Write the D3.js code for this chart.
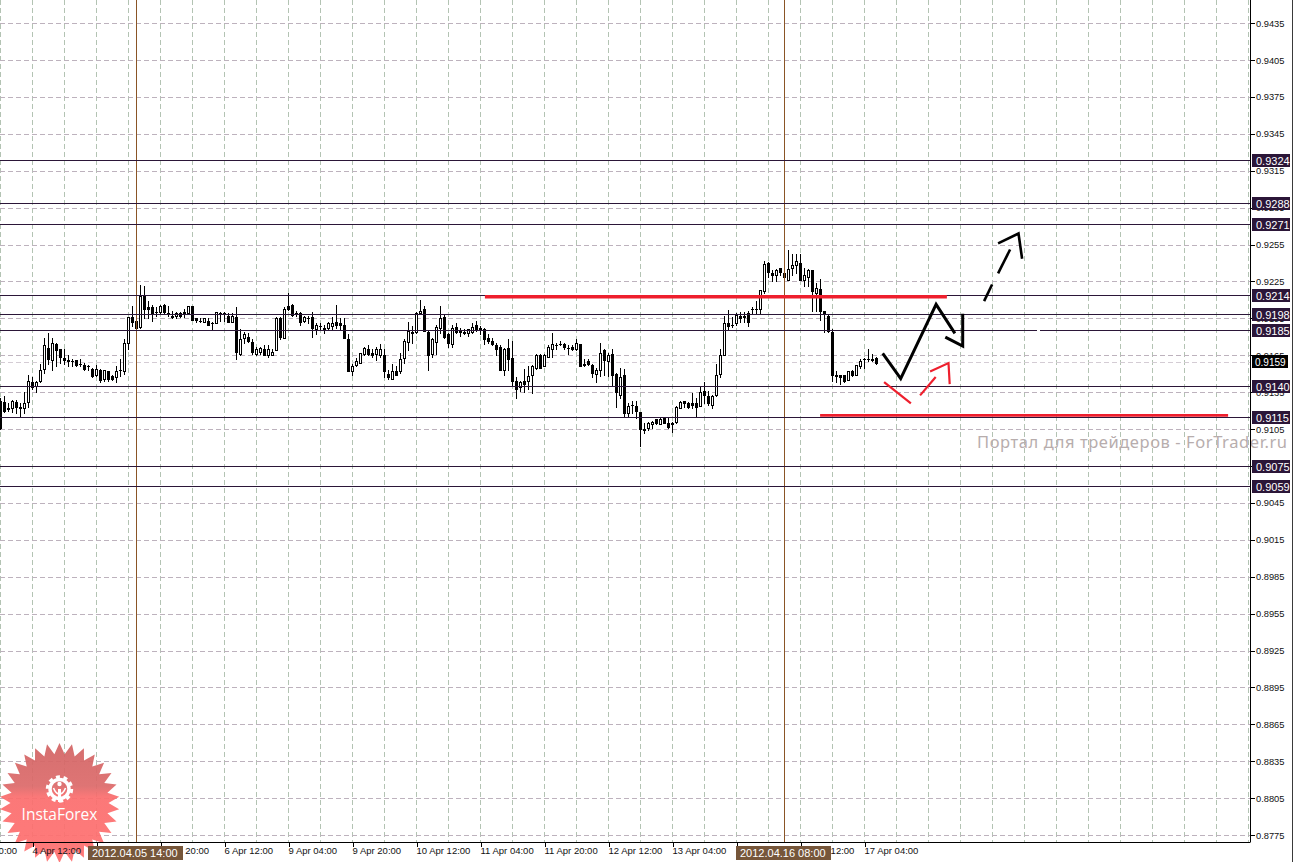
<!DOCTYPE html>
<html><head><meta charset="utf-8">
<style>
html,body{margin:0;padding:0;background:#fff;overflow:hidden}
svg{display:block}
text{font-family:"Liberation Sans",Arial,sans-serif}
</style>
<script src="https://cdn.jsdelivr.net/npm/d3@7/dist/d3.min.js"></script>
</head><body>
<svg id="c" width="1293" height="862"></svg>
<script>
// Candle values in 1/10000 price units (index = hourly bar)
const highs=[9130,9132,9126,9129,9129,9126,9135,9149,9147,9144,
9158,9179,9183,9179,9175,9170,9170,9165,9162,9161,
9162,9159,9157,9155,9157,9154,9153,9152,9149,9156,
9162,9178,9196,9205,9195,9222,9221,9209,9206,9204,
9206,9207,9205,9201,9200,9200,9203,9205,9205,9195,
9195,9195,9195,9192,9200,9200,9200,9199,9199,9204,
9186,9184,9183,9178,9172,9172,9173,9173,9170,9196,
9196,9204,9216,9207,9201,9200,9197,9197,9200,9191,
9191,9190,9192,9196,9206,9195,9195,9182,9158,9163,
9167,9172,9173,9170,9172,9174,9170,9153,9158,9156,
9167,9178,9192,9189,9200,9210,9205,9185,9179,9190,
9205,9198,9183,9190,9191,9187,9186,9186,9191,9193,
9189,9187,9182,9179,9175,9173,9171,9178,9177,9147,
9144,9154,9156,9157,9166,9166,9166,9173,9183,9175,
9177,9175,9173,9173,9178,9174,9162,9162,9158,9155,
9175,9170,9167,9170,9151,9155,9154,9126,9128,9128,
9119,9110,9111,9112,9113,9114,9114,9114,9111,9124,
9128,9128,9127,9134,9130,9140,9143,9136,9133,9158,
9170,9197,9202,9196,9199,9200,9200,9201,9204,9209,
9218,9242,9241,9234,9235,9236,9235,9251,9247,9247,
9247,9236,9235,9234,9224,9227,9201,9198,9186,9152,
9149,9149,9152,9153,9157,9162,9163,9170,9166,9164];
const lows=[9105,9119,9120,9119,9118,9116,9118,9123,9138,9135,
9143,9151,9158,9153,9156,9159,9158,9156,9156,9156,
9156,9153,9153,9147,9148,9143,9144,9144,9145,9143,
9148,9150,9170,9189,9186,9187,9195,9195,9193,9197,
9199,9199,9197,9195,9195,9196,9196,9199,9194,9192,
9192,9192,9190,9186,9191,9193,9193,9192,9192,9162,
9165,9175,9176,9166,9165,9166,9165,9164,9165,9169,
9178,9179,9202,9197,9197,9190,9192,9191,9180,9182,
9186,9183,9186,9186,9187,9186,9179,9152,9149,9156,
9159,9165,9165,9164,9161,9164,9147,9146,9146,9149,
9151,9159,9169,9175,9183,9199,9185,9153,9164,9166,
9183,9179,9172,9172,9183,9181,9182,9181,9183,9185,
9182,9174,9175,9173,9165,9153,9149,9153,9140,9130,
9136,9135,9138,9134,9154,9155,9156,9164,9164,9170,
9173,9170,9166,9169,9169,9156,9156,9157,9147,9143,
9148,9149,9148,9140,9123,9130,9116,9115,9118,9114,
9091,9102,9104,9106,9109,9109,9110,9106,9103,9110,
9122,9123,9122,9122,9115,9124,9126,9125,9122,9132,
9147,9165,9186,9188,9190,9192,9192,9189,9199,9199,
9199,9216,9229,9225,9225,9230,9227,9226,9230,9232,
9226,9221,9221,9201,9201,9194,9184,9184,9144,9143,
9142,9143,9145,9148,9149,9155,9155,9160,9160,9158];
const opens=[9128,9127,9122,9122,9127,9123,9122,9127,9143,9140,
9144,9154,9171,9161,9174,9170,9163,9161,9160,9161,
9158,9157,9156,9154,9149,9153,9146,9152,9148,9147,
9153,9152,9175,9196,9193,9188,9213,9204,9204,9200,
9200,9206,9199,9197,9197,9199,9199,9199,9205,9195,
9193,9192,9193,9191,9191,9199,9199,9197,9192,9196,
9166,9179,9180,9176,9166,9168,9170,9165,9165,9169,
9195,9179,9205,9206,9199,9199,9193,9195,9196,9186,
9189,9187,9187,9189,9192,9191,9190,9178,9152,9157,
9159,9166,9170,9167,9166,9165,9165,9150,9146,9152,
9152,9163,9176,9184,9184,9199,9203,9184,9166,9176,
9187,9196,9182,9174,9188,9185,9184,9183,9184,9190,
9187,9186,9179,9177,9173,9172,9153,9171,9163,9144,
9139,9144,9144,9149,9155,9165,9156,9164,9170,9173,
9174,9174,9171,9172,9170,9174,9158,9160,9157,9150,
9153,9169,9160,9166,9150,9133,9149,9118,9125,9124,
9119,9105,9106,9109,9113,9109,9114,9110,9109,9111,
9122,9128,9126,9126,9126,9124,9136,9132,9125,9133,
9150,9165,9191,9190,9191,9197,9196,9199,9203,9203,
9203,9217,9240,9232,9230,9236,9232,9226,9236,9238,
9240,9226,9229,9234,9216,9219,9201,9197,9184,9149,
9149,9149,9145,9152,9149,9156,9162,9162,9162,9163];
const closes=[9106,9120,9121,9128,9123,9122,9126,9144,9139,9143,
9153,9173,9162,9175,9169,9164,9161,9160,9160,9157,
9158,9154,9156,9148,9154,9145,9153,9146,9146,9152,
9153,9175,9196,9192,9187,9213,9203,9203,9199,9200,
9205,9200,9199,9196,9199,9197,9200,9205,9194,9194,
9193,9195,9190,9191,9200,9199,9199,9192,9197,9168,
9178,9182,9177,9168,9170,9171,9165,9170,9168,9195,
9180,9203,9203,9198,9199,9192,9196,9195,9187,9190,
9189,9186,9191,9191,9190,9190,9179,9152,9156,9160,
9167,9171,9166,9165,9170,9170,9152,9147,9152,9149,
9162,9177,9185,9183,9199,9201,9185,9165,9178,9188,
9195,9180,9175,9187,9184,9184,9183,9186,9188,9186,
9186,9178,9177,9174,9170,9153,9170,9162,9144,9138,
9143,9142,9148,9156,9165,9155,9165,9172,9174,9173,
9174,9172,9171,9170,9175,9156,9157,9158,9151,9153,
9167,9161,9165,9149,9135,9147,9118,9124,9125,9120,
9105,9104,9110,9111,9110,9113,9110,9107,9110,9123,
9127,9126,9123,9125,9123,9135,9133,9126,9132,9149,
9165,9191,9189,9190,9198,9195,9197,9192,9203,9203,
9218,9239,9233,9230,9234,9233,9229,9235,9238,9242,
9226,9230,9234,9217,9220,9201,9199,9185,9149,9148,
9147,9144,9152,9149,9157,9160,9162,9162,9161,9159];

const priceTicks=[0.9435,0.9405,0.9375,0.9345,0.9315,0.9285,0.9255,0.9225,0.9195,0.9165,0.9135,0.9105,0.9075,0.9045,0.9015,0.8985,0.8955,0.8925,0.8895,0.8865,0.8835,0.8805,0.8775];
const levels=[0.9324,0.9289,0.9272,0.9214,0.91985,0.91855,0.9140,0.9115,0.9075,0.9059];
const levelLabels=["0.9324","0.9288","0.9271","0.9214","0.9198","0.9185","0.9140","0.9115","0.9075","0.9059"];
const bidPrice=0.9159;
const timeBars=[-8,8,24,40,56,72,88,104,120,136,152,168,184,200,216];
const timeLabels=["3 Apr 20:00","4 Apr 12:00","5 Apr 04:00","5 Apr 20:00","6 Apr 12:00","9 Apr 04:00","9 Apr 20:00","10 Apr 12:00","11 Apr 04:00","11 Apr 20:00","12 Apr 12:00","13 Apr 04:00","13 Apr 20:00","16 Apr 12:00","17 Apr 04:00"];
const gridBars=d3.range(0,313,8);
const markerBars=[34,196];
const markerLabels=["2012.04.05 14:00","2012.04.16 08:00"];
// Hand-drawn annotations: [bar, price]
const redLevels=[[[121.1,0.92126],[236.6,0.92126]],[[204.9,0.91161],[306.9,0.91161]]];
const blackSolid=[[[220.55,0.91665],[225.05,0.9146],[233.9,0.92064],[238.6,0.91828]],[[236.2,0.91798],[240.55,0.91725],[240.55,0.91988]]];
const blackDashed=[[[245.9,0.9209],[247.9,0.92226]],[[249.4,0.92316],[252.4,0.9251]],[[249.4,0.9256],[254.5,0.9264],[255.4,0.92435]]];
const redStrokes=[[[220.9,0.91432],[227.6,0.9126]],[[229.9,0.91324],[233.8,0.91473]],[[232.4,0.91519],[237,0.91587],[237.3,0.91416]]];
const levelGap=[[259.1,0.91855],[259.9,0.91855]];
const watermark="Портал для трейдеров - ForTrader.ru";
const brand="InstaForex";

const svg=d3.select("#c");
const plotW=1250, plotH=842.5;
const x=d3.scaleLinear().domain([0,100]).range([0.5,400.5]);
const y=d3.scaleLinear().domain([0.9324,0.9059]).range([159.7,485.7]);
const py=v=>Math.round(y(v))+0.5;
const LVL="#2b1638", RED="#ee1f2d";

// grid
const gridG=svg.append("g");
gridG.selectAll("line.v").data(gridBars).join("line").attr("class","v")
 .attr("x1",d=>Math.floor(x(d))+0.5).attr("x2",d=>Math.floor(x(d))+0.5).attr("y1",0).attr("y2",plotH)
 .attr("stroke","#b3c3b3").attr("stroke-dasharray","5 3");
gridG.selectAll("line.h").data(priceTicks).join("line").attr("class","h")
 .attr("x1",0).attr("x2",plotW).attr("y1",py).attr("y2",py)
 .attr("stroke","#bdb2bd").attr("stroke-dasharray","5 3");
gridG.append("line").attr("x1",0).attr("x2",plotW).attr("y1",py(bidPrice)-1).attr("y2",py(bidPrice)-1)
 .attr("stroke","#d4ccd4").attr("stroke-dasharray","5 3");

// logo
const defs=svg.append("defs");
const lg=defs.append("linearGradient").attr("id","lg").attr("x1",0).attr("y1",0).attr("x2",0).attr("y2",1);
lg.append("stop").attr("offset","0").attr("stop-color","#d26464");
lg.append("stop").attr("offset","0.36").attr("stop-color","#dc6a6a");
lg.append("stop").attr("offset","0.45").attr("stop-color","#fb6e6e");
lg.append("stop").attr("offset","1").attr("stop-color","#ff7070");
const spikes=30;
const star=d3.range(spikes*2).map(i=>[i*Math.PI/spikes,i%2?49:60]);
const logo=svg.append("g").attr("transform","translate(59.5,803)");
logo.append("path").attr("d",d3.lineRadial().curve(d3.curveLinearClosed)(star)).attr("fill","url(#lg)").attr("opacity",0.93);
logo.append("circle").attr("cy",-14).attr("r",9.5).attr("fill","none").attr("stroke","#fff").attr("stroke-width",3.4);
logo.append("circle").attr("cy",-14).attr("r",12.2).attr("fill","none").attr("stroke","#fff").attr("stroke-width",3).attr("stroke-dasharray","4 3.65");
logo.append("rect").attr("x",-1.5).attr("y",-14).attr("width",3).attr("height",13).attr("fill","#fff");
logo.append("circle").attr("cy",-19).attr("r",2.2).attr("fill","#fff");
logo.append("path").attr("d","M-6,-15 Q-4,-10 -1,-9 M6,-15 Q4,-10 1,-9").attr("fill","none").attr("stroke","#fff").attr("stroke-width",1.6);
logo.append("text").attr("x",0).attr("y",17).attr("text-anchor","middle").attr("fill","#fff")
 .style("font-family","'Open Sans',sans-serif").style("font-size","15.5px").text(brand);

// watermark
svg.append("text").attr("x",977).attr("y",447.5).attr("fill","#b7adad")
 .attr("textLength",310).attr("lengthAdjust","spacing")
 .style("font-family","'Noto Sans',sans-serif").style("font-size","16.5px").text(watermark);

// candles
const bars=d3.range(highs.length);
const cG=svg.append("g").attr("shape-rendering","crispEdges");
cG.selectAll("line.w").data(bars).join("line").attr("class","w")
 .attr("x1",i=>x(i)).attr("x2",i=>x(i))
 .attr("y1",i=>Math.round(y(highs[i]/1e4))).attr("y2",i=>Math.round(y(lows[i]/1e4))+1)
 .attr("stroke","#000");
cG.selectAll("rect.b").data(bars).join("rect").attr("class","b")
 .each(function(i){
   const a=Math.round(y(Math.max(opens[i],closes[i])/1e4));
   const b=Math.round(y(Math.min(opens[i],closes[i])/1e4));
   const s=d3.select(this);
   if(a===b){
     s.attr("x",x(i)-1.5).attr("width",3).attr("y",a).attr("height",1).attr("fill","#000");
   }else{
     s.attr("x",x(i)-1).attr("width",2).attr("y",a+0.5).attr("height",b-a)
      .attr("fill",closes[i]>opens[i]?"#fff":"#000").attr("stroke","#000");
   }
 });

// vertical marker lines
svg.selectAll("line.m").data(markerBars).join("line").attr("class","m")
 .attr("x1",x).attr("x2",x).attr("y1",0).attr("y2",plotH).attr("stroke","#8a5526").attr("shape-rendering","crispEdges");

// horizontal levels
svg.selectAll("line.l").data(levels).join("line").attr("class","l")
 .attr("x1",0).attr("x2",plotW).attr("y1",py).attr("y2",py).attr("stroke",LVL).attr("shape-rendering","crispEdges");
svg.append("line").attr("x1",x(levelGap[0][0])).attr("x2",x(levelGap[1][0])).attr("y1",py(levelGap[0][1])).attr("y2",py(levelGap[1][1]))
 .attr("stroke","#fff").attr("shape-rendering","crispEdges");

// annotations
const ln=d3.line().x(d=>x(d[0])).y(d=>y(d[1]));
const drawSet=(data,color,w,cls)=>svg.selectAll("path."+cls).data(data).join("path").attr("class",cls)
 .attr("d",ln).attr("fill","none").attr("stroke",color).attr("stroke-width",w).attr("stroke-linejoin","miter");
drawSet(redLevels.slice(0,1),RED,3.6,"r1");
drawSet(redLevels.slice(1),RED,2.7,"r2");
drawSet(blackSolid,"#000",3,"bs");
drawSet(blackDashed,"#000",2.6,"bd");
drawSet(redStrokes,RED,2.2,"rs");

// price axis
const yAxis=d3.axisRight(y).tickValues(priceTicks).tickFormat(d3.format(".4f")).tickSize(4).tickPadding(1.5);
const yG=svg.append("g").attr("transform",`translate(${plotW+0.5},0)`).call(yAxis);
yG.select(".domain").attr("d",`M0,0V${plotH}`).attr("stroke","#000");
yG.selectAll(".tick text").attr("fill","#111").style("font-size","9.3px");
yG.selectAll(".tick line").attr("stroke","#000").attr("shape-rendering","crispEdges");

// time axis
const xAxis=d3.axisBottom(x).tickValues(timeBars).tickFormat((d,i)=>timeLabels[i]).tickSize(4).tickPadding(0);
const xG=svg.append("g").attr("transform",`translate(0,${plotH})`).call(xAxis);
xG.select(".domain").attr("d",`M0,0H${plotW}`).attr("stroke","#000");
xG.selectAll(".tick text").attr("text-anchor","start").attr("x",-0.5).attr("y",4.5).attr("fill","#111").style("font-size","9.5px");
xG.selectAll(".tick line").attr("stroke","#000").attr("shape-rendering","crispEdges");

// level price labels
const lab=svg.append("g");
lab.selectAll("rect").data(levels).join("rect").attr("x",1252).attr("width",38).attr("y",d=>py(d)-6.5).attr("height",13).attr("fill",LVL);
lab.selectAll("text").data(levels).join("text").attr("x",1256).attr("y",d=>py(d)+4).attr("fill","#fff")
 .style("font-size","11px").text((d,i)=>levelLabels[i]);
lab.append("rect").attr("x",1252).attr("width",36).attr("y",355).attr("height",13).attr("fill","#000");
lab.append("text").attr("x",1255).attr("y",365.5).attr("fill","#fff").style("font-size","10px").text(d3.format(".4f")(bidPrice));

// marker time boxes
const mb=svg.append("g");
mb.selectAll("rect").data(markerBars).join("rect").attr("x",d=>x(d)-48.5).attr("width",95).attr("y",846).attr("height",14).attr("fill","#76563a");
mb.selectAll("text").data(markerBars).join("text").attr("x",(d,i)=>x(d)-44.5).attr("y",857).attr("fill","#fff")
 .style("font-size","11px").text((d,i)=>markerLabels[i]);

// window edge
svg.append("line").attr("x1",1292.5).attr("x2",1292.5).attr("y1",0).attr("y2",862).attr("stroke","#3a3a3a");
</script>
</body></html>
